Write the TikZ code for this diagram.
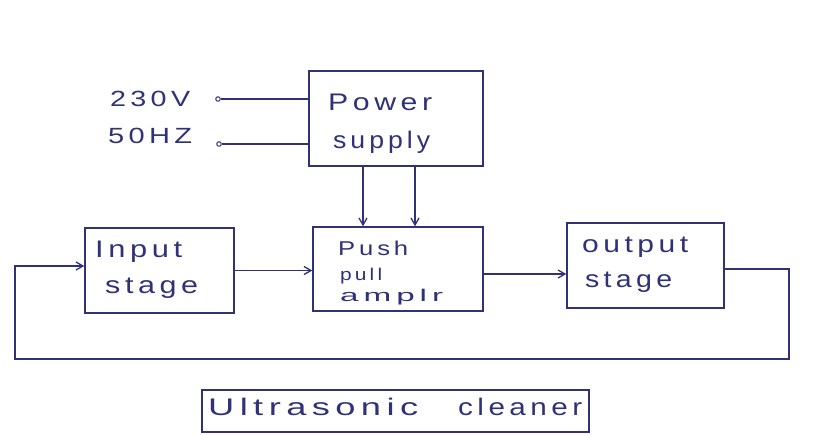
\documentclass[tikz,border=0pt]{standalone}
\usepackage{fontspec}
\setmainfont{Liberation Sans}[LetterSpace=15]
\usetikzlibrary{arrows.meta}
\definecolor{ink}{RGB}{48,50,120}
\newcommand\hw[2]{\resizebox{#1}{\height}{#2}}
\begin{document}
\begin{tikzpicture}[x=1pt,y=-1pt,
  blk/.style={draw=ink,line width=1.4pt,rectangle,inner sep=0pt},
  lbl/.style={text=ink,font=\fontsize{24}{26}\selectfont,anchor=base west,inner sep=0pt},
  arr/.style={draw=ink,line width=1.3pt,-{Straight Barb[length=7pt,width=8pt]}},
  wire/.style={draw=ink,line width=1.3pt},
  term/.style={circle,draw=ink,line width=1pt,minimum size=4.5pt,inner sep=0pt}]
\useasboundingbox (0,0) rectangle (840,434);
\fill[white] (0,0) rectangle (840,434);
% blocks
\node[blk,minimum width=174pt,minimum height=95pt] (ps) at (396,118.5) {};
\node[blk,minimum width=149pt,minimum height=85pt] (in) at (159.5,270.5) {};
\node[blk,minimum width=170pt,minimum height=84pt] (pp) at (398,269) {};
\node[blk,minimum width=157pt,minimum height=85pt] (out) at (645.5,265.5) {};
\node[blk,minimum width=387pt,minimum height=42pt] (title) at (395.5,411) {};
% labels
\node[lbl] (t1) at (328,110) {\hw{104pt}{Power}};
\node[lbl] (t2) at (333,148) {\hw{97pt}{supply}};
\node[lbl] (t3) at (95,257) {\hw{87pt}{Input}};
\node[lbl] (t4) at (105,293) {\hw{93pt}{stage}};
\node[lbl,font=\fontsize{20}{22}\selectfont] (t5) at (338,255) {\hw{70pt}{Push}};
\node[lbl,font=\fontsize{17}{19}\selectfont] (t6) at (340,280) {\hw{42pt}{pull}};
\node[lbl,font=\fontsize{17}{19}\selectfont] (t7) at (340,301) {\hw{103pt}{amplr}};
\node[lbl] (t8) at (582,252) {\hw{106pt}{output}};
\node[lbl] (t9) at (585,287) {\hw{87pt}{stage}};
\node[lbl] (t10) at (208,415) {\hw{210pt}{Ultrasonic}\hspace{40pt}\hw{124pt}{cleaner}};
\node[lbl,font=\fontsize{22}{24}\selectfont] (v1) at (110,106) {\hw{80pt}{230V}};
\node[lbl,font=\fontsize{22}{24}\selectfont] (v2) at (108,143) {\hw{84pt}{50HZ}};
% terminals
\node[term] (a1) at (218,99) {};
\node[term] (a2) at (219,144) {};
\draw[wire] (a1.east) -- (a1 -| ps.west);
\draw[wire] (a2.east) -- (a2 -| ps.west);
% supply arrows
\draw[arr] ([xshift=-33pt]ps.south) -- ([xshift=-33pt]ps.south |- pp.north);
\draw[arr] ([xshift=19pt]ps.south) -- ([xshift=19pt]ps.south |- pp.north);
% signal path
\draw[arr] (in.east) -- (in.east -| pp.west);
\draw[arr] ([yshift=-5pt]pp.east) -- ([yshift=-5pt]pp.east -| out.west);
\coordinate (c1) at (789,359);
\coordinate (c2) at (15,359);
\draw[arr] ([yshift=-3.5pt]out.east) -| (c1) -- (c2) |- ([yshift=4.5pt]in.west);
\end{tikzpicture}
\end{document}
